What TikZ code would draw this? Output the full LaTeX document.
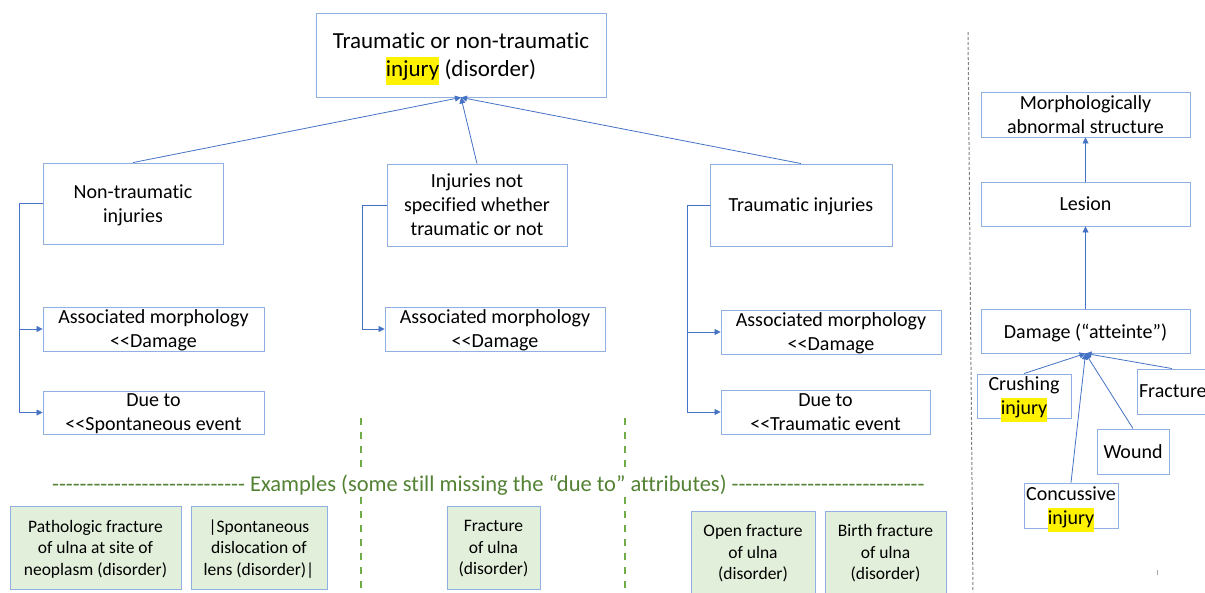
\documentclass[tikz,border=0pt]{standalone}
\usepackage{fontspec}
\setmainfont{Carlito}[Ligatures={TeX,NoCommon}]
\usetikzlibrary{arrows.meta}
\definecolor{boxline}{RGB}{143,176,224}
\definecolor{linkblue}{RGB}{68,114,196}
\definecolor{exgreen}{RGB}{84,130,53}
\definecolor{sepgreen}{RGB}{112,173,71}
\definecolor{exfill}{RGB}{226,239,218}
\newcommand{\hl}[1]{{\setlength{\fboxsep}{0pt}\colorbox{yellow}{\strut #1}}}
\newcommand{\dashrow}{\foreach \k in {1,...,28}{-}}
\tikzset{
  box/.style={draw=boxline, line width=0.9pt, align=center, inner sep=0pt,
    font=\fontsize{20}{24}\selectfont, text depth=-1pt},
  exbox/.style={box, fill=exfill, font=\fontsize{17.5}{21.5}\selectfont},
  isa/.style={draw=linkblue, line width=0.8pt, -{Triangle[length=6pt,width=6pt]}},
  sep/.style={sepgreen, line width=1.4pt, dash pattern=on 7pt off 7pt}
}
\begin{document}
\begin{tikzpicture}[x=1pt,y=-1pt]
\fill[white] (0,0) rectangle (1205,592);
\useasboundingbox (0,0) rectangle (1205,592);
\node[box, minimum width=290, minimum height=84, font=\fontsize{23}{28}\selectfont, text depth=-4pt] (top) at (461,55)
  {Traumatic or non-traumatic\\\hl{injury} (disorder)};
\node[box, minimum width=180, minimum height=81] (nontr) at (133,203.5) {Non-traumatic\\injuries};
\node[box, minimum width=180, minimum height=82] (unspec) at (477,205) {Injuries not\\specified whether\\traumatic or not};
\node[box, minimum width=182, minimum height=82] (trauma) at (801,205) {Traumatic injuries};
\node[box, minimum width=221, minimum height=44] (am1) at (153.5,329) {Associated morphology\\<{}<Damage};
\node[box, minimum width=221, minimum height=43] (due1) at (153.5,412.5) {Due to\\<{}<Spontaneous event};
\node[box, minimum width=220, minimum height=44] (am2) at (495,329) {Associated morphology\\<{}<Damage};
\node[box, minimum width=220, minimum height=44] (am3) at (831,332) {Associated morphology\\<{}<Damage};
\node[box, minimum width=209, minimum height=44] (due3) at (825.5,412) {Due to\\<{}<Traumatic event};
\draw[isa] (nontr.north) -- (top.south);
\draw[isa] (unspec.north) -- (top.south);
\draw[isa] (trauma.north) -- (top.south);
\draw[isa] (nontr.west) -- ++(-23,0) |- (am1.west);
\draw[isa] (nontr.west) -- ++(-23,0) |- (due1.west);
\draw[isa] (unspec.west) -- ++(-24,0) |- (am2.west);
\draw[isa] (trauma.west) -- ++(-22,0) |- (am3.west);
\draw[isa] (trauma.west) -- ++(-22,0) |- (due3.west);
\draw[sep] (361,418) -- (361,470);
\draw[sep] (361,497) -- (361,592);
\draw[sep] (625,418) -- (625,470);
\draw[sep] (625,497) -- (625,592);
\node[text=exgreen, inner sep=0pt, font=\fontsize{22.5}{26}\selectfont] (extitle) at (488.5,485)
  {\dashrow\ Examples (some still missing the “due to” attributes) \dashrow};
\node[exbox, minimum width=171, minimum height=83] (ex1) at (95.5,547.5) {Pathologic fracture\\of ulna at site of\\neoplasm (disorder)};
\node[exbox, minimum width=136, minimum height=83] (ex2) at (259,547.5) {|Spontaneous\\dislocation of\\lens (disorder)|};
\node[exbox, minimum width=93, minimum height=83] (ex3) at (493.5,547.5) {Fracture\\of ulna\\(disorder)};
\node[exbox, minimum width=124, minimum height=82] (ex4) at (753,552) {Open fracture\\of ulna\\(disorder)};
\node[exbox, minimum width=121, minimum height=82] (ex5) at (885.5,552) {Birth fracture\\of ulna\\(disorder)};
\draw[gray, line width=1pt, dash pattern=on 3pt off 2pt] (968,32) -- (973,592);
\node[box, minimum width=209, minimum height=45] (morph) at (1085.5,114.5) {Morphologically\\abnormal structure};
\node[box, minimum width=209, minimum height=44] (lesion) at (1085.5,204) {Lesion};
\node[box, minimum width=209, minimum height=44] (damage) at (1085.5,331) {Damage (“atteinte”)};
\node[box, minimum width=94, minimum height=44] (crush) at (1024,396) {Crushing\\\hl{injury}};
\node[box, minimum width=70, minimum height=45, text width=66, align=left] (fract) at (1172,391.5) {Fracture};
\node[box, minimum width=72, minimum height=45] (wound) at (1133,451.5) {Wound};
\node[box, minimum width=94, minimum height=45] (concus) at (1071,505.5) {Concussive\\\hl{injury}};
\draw[isa] (lesion.north) -- (morph.south);
\draw[isa] (damage.north) -- (lesion.south);
\draw[isa] (crush.north) -- (damage.south);
\draw[isa] (fract.north) -- (damage.south);
\draw[isa] (wound.north) -- (damage.south);
\draw[isa] (concus.north) -- (damage.south);
\draw[gray!70, line width=0.8pt] (1157,570) -- (1157,575);
\end{tikzpicture}
\end{document}
